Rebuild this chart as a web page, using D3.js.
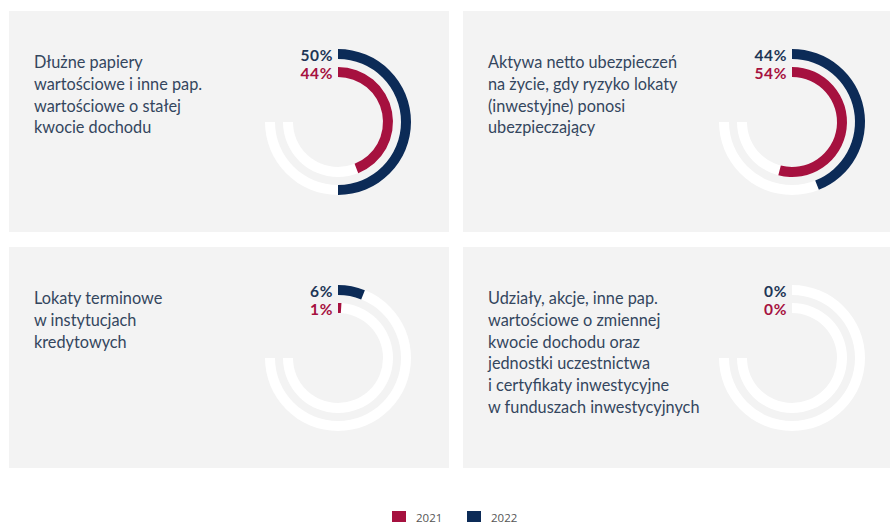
<!DOCTYPE html>
<html><head><meta charset="utf-8">
<script src="https://cdn.jsdelivr.net/npm/d3@7"></script>
<style>
html,body{margin:0;padding:0;background:#fff;}
svg{display:block;}
</style></head>
<body>
<svg id="chart" width="890" height="524"></svg>
<script>
const categories = [
  ["Dłużne papiery", "wartościowe i inne pap.", "wartościowe o stałej", "kwocie dochodu"],
  ["Aktywa netto ubezpieczeń", "na życie, gdy ryzyko lokaty", "(inwestyjne) ponosi", "ubezpieczający"],
  ["Lokaty terminowe", "w instytucjach", "kredytowych"],
  ["Udziały, akcje, inne pap.", "wartościowe o zmiennej", "kwocie dochodu oraz", "jednostki uczestnictwa", "i certyfikaty inwestycyjne", "w funduszach inwestycyjnych"]
];
const values2021 = [44, 54, 1, 0];
const values2022 = [50, 44, 6, 0];
const years = ["2021", "2022"];
const colors = {"2021": "#a6113f", "2022": "#0c2b57"};
const labelColors = {"2021": "#a6113f", "2022": "#1e3656"};

const svg = d3.select("#chart");
const panelW = 440, panelH = 221, gapX = 14, gapY = 15, x0 = 9, y0 = 11;

const angle = d3.scaleLinear().domain([0, 100]).range([0, 2 * Math.PI]);
const outerArc = d3.arc().innerRadius(63).outerRadius(73);
const innerArc = d3.arc().innerRadius(45).outerRadius(55);

categories.forEach((lines, i) => {
  const col = i % 2, row = Math.floor(i / 2);
  const px = x0 + col * (panelW + gapX);
  const py = y0 + row * (panelH + gapY);
  const g = svg.append("g").attr("transform", `translate(${px},${py})`);
  g.append("rect").attr("width", panelW).attr("height", panelH).attr("fill", "#f3f3f3");

  const t = g.append("text")
    .attr("font-family", "Lato, 'Open Sans', sans-serif")
    .attr("font-size", 16.3)
    .attr("fill", "#34465e");
  lines.forEach((l, k) => {
    t.append("tspan").attr("x", 25).attr("y", 57 + k * 21.8).text(l);
  });

  const cx = 329, cy = 111;
  const rg = g.append("g").attr("transform", `translate(${cx},${cy})`);
  rg.append("path").attr("d", outerArc({startAngle: 0, endAngle: angle(75)})).attr("fill", "#ffffff");
  rg.append("path").attr("d", innerArc({startAngle: 0, endAngle: angle(75)})).attr("fill", "#ffffff");
  rg.append("path").attr("d", outerArc({startAngle: 0, endAngle: angle(values2022[i])})).attr("fill", colors["2022"]);
  rg.append("path").attr("d", innerArc({startAngle: 0, endAngle: angle(values2021[i])})).attr("fill", colors["2021"]);

  rg.append("text").attr("x", -5).attr("y", -61.5).attr("text-anchor", "end")
    .attr("font-family", "Lato, sans-serif").attr("font-size", 15.5).attr("font-weight", 700)
    .attr("letter-spacing", 0.6)
    .attr("fill", labelColors["2022"]).text(values2022[i] + "%");
  rg.append("text").attr("x", -5).attr("y", -43).attr("text-anchor", "end")
    .attr("font-family", "Lato, sans-serif").attr("font-size", 15.5).attr("font-weight", 700)
    .attr("letter-spacing", 0.6)
    .attr("fill", labelColors["2021"]).text(values2021[i] + "%");
});

const leg = svg.append("g").attr("transform", "translate(392,511)");
years.forEach((y, k) => {
  const lg = leg.append("g").attr("transform", `translate(${k * 75},0)`);
  lg.append("rect").attr("width", 14).attr("height", 11).attr("fill", colors[y]);
  lg.append("text").attr("x", 24).attr("y", 10.5).attr("font-family", "'Open Sans', sans-serif")
    .attr("font-size", 11.5).attr("fill", "#555").text(y);
});
</script>
</body></html>
